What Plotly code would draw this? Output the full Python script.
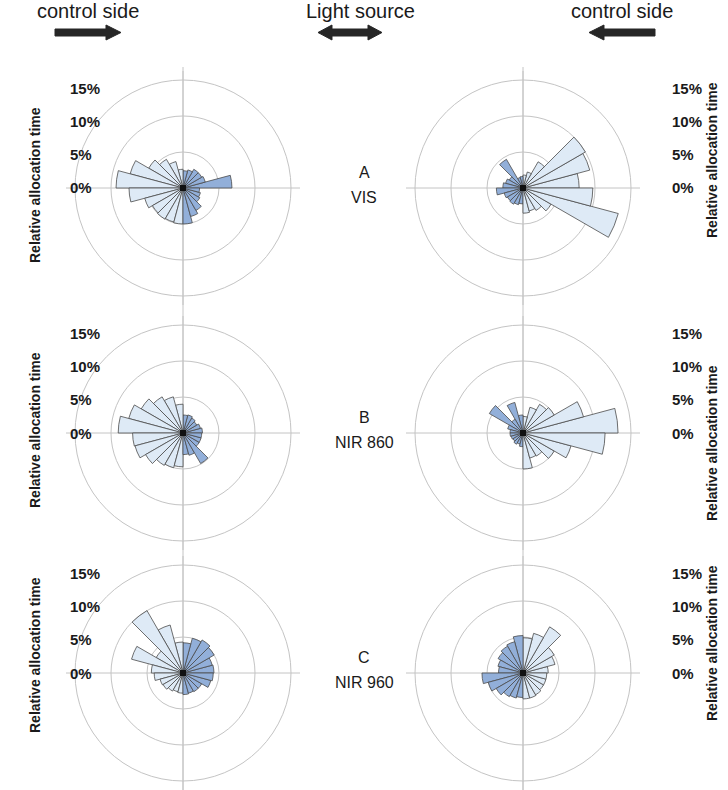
import plotly.graph_objects as go

W, H = 728, 790

# ---- data (bin centres in degrees, counter-clockwise from east) ----
bin_centers = [7.5 + 15 * k for k in range(24)]

vis_left = [6.8, 3.2, 3.0, 3.0, 2.6, 2.4, 2.6, 3.8, 4.6, 5.5, 7.6, 9.3,
            7.5, 5.5, 4.9, 5.0, 4.9, 5.0, 5.0, 4.1, 3.6, 2.7, 2.5, 2.3]
vis_right = [7.8, 9.6, 10.0, 4.2, 2.3, 1.8, 1.6, 1.5, 4.6, 2.2, 2.5, 2.8,
             3.7, 2.7, 2.5, 2.6, 2.4, 2.2, 3.5, 3.3, 3.6, 4.5, 13.7, 9.7]
nir860_left = [2.7, 2.5, 2.2, 2.4, 2.6, 2.5, 4.0, 5.2, 5.8, 6.7, 7.8, 9.0,
               7.0, 6.9, 6.0, 5.2, 5.0, 4.7, 3.0, 3.2, 4.9, 2.6, 2.6, 2.6]
nir860_right = [13.2, 8.7, 5.0, 4.6, 3.7, 2.3, 2.5, 4.4, 2.2, 5.4, 2.2, 1.8,
                1.8, 1.7, 1.6, 1.8, 1.6, 1.9, 5.0, 3.6, 3.7, 5.0, 6.9, 11.4]
nir960_left = [4.3, 4.2, 5.0, 5.3, 5.0, 4.2, 4.3, 6.9, 10.0, 4.3, 7.4, 4.4,
               4.0, 3.3, 3.2, 2.9, 2.7, 2.8, 3.0, 2.9, 3.0, 3.0, 4.0, 4.2]
nir960_right = [3.5, 4.6, 5.0, 7.4, 5.7, 4.9, 5.2, 4.5, 4.3, 4.0, 3.6, 3.4,
                5.7, 5.0, 4.3, 3.8, 3.6, 3.4, 3.6, 3.6, 3.5, 3.3, 3.3, 3.3]

row_letters = ["A", "B", "C"]
row_names = ["VIS", "NIR 860", "NIR 960"]
radial_ticks = [0, 5, 10, 15]
radial_tick_labels = ["0%", "5%", "10%", "15%"]
axis_title = "Relative allocation time"
top_labels = ["control side", "Light source", "control side"]

LIGHT = "#deeaf6"
DARK = "#92afd9"
EDGE = "#4a4a4a"
GRID = "#c4c4c4"
TXT = "#1a1a1a"

# panel centres in pixels
col_x = [183, 523]
row_y = [188, 433, 673]
R_PX = 117          # nominal pixel radius of the polar area
R_MAX = 16.25       # percent at that radius

def px(x):
    return x / W

def py(y):
    return 1 - y / H

fig = go.Figure()

panels = [
    (vis_left, 0, 0), (vis_right, 0, 1),
    (nir860_left, 1, 0), (nir860_right, 1, 1),
    (nir960_left, 2, 0), (nir960_right, 2, 1),
]

layout_polars = {}
for i, (vals, r, c) in enumerate(panels):
    name = "polar" if i == 0 else f"polar{i + 1}"
    colors = []
    for th in bin_centers:
        on_left_half = 90 < th < 270
        if c == 0:
            colors.append(LIGHT if on_left_half else DARK)
        else:
            colors.append(DARK if on_left_half else LIGHT)
    fig.add_trace(go.Barpolar(
        r=vals, theta=bin_centers, width=[15] * len(bin_centers),
        marker=dict(color=colors, line=dict(color=EDGE, width=0.8)),
        subplot=name, showlegend=False, hoverinfo="r+theta",
    ))
    fig.add_trace(go.Scatterpolar(
        r=[0], theta=[0], mode="markers",
        marker=dict(symbol="square", size=6, color="#111111"),
        subplot=name, showlegend=False, hoverinfo="skip",
    ))
    cx, cy = col_x[c], row_y[r]
    rp = min(R_PX, H - cy, cy)
    rmax = R_MAX * rp / R_PX
    layout_polars[name] = dict(
        domain=dict(x=[px(cx - rp), px(cx + rp)],
                    y=[py(cy + rp), py(cy - rp)]),
        bgcolor="rgba(0,0,0,0)",
        radialaxis=dict(range=[0, rmax], tickvals=[5, 10, 15],
                        showticklabels=False, ticks="", showline=False,
                        gridcolor=GRID, gridwidth=1),
        angularaxis=dict(tickvals=[0, 90, 180, 270], showticklabels=False,
                         ticks="", showline=False, gridcolor=GRID, gridwidth=1,
                         direction="counterclockwise", rotation=0),
        bargap=0,
    )

fig.update_layout(**layout_polars)

shapes = []
# continuous vertical axis lines through each column
for cx in col_x:
    shapes.append(dict(type="line", xref="paper", yref="paper",
                       x0=px(cx), x1=px(cx), y0=py(67), y1=0,
                       line=dict(color=GRID, width=1), layer="below"))

def poly(points):
    d = "M " + " L ".join(f"{px(x):.5f},{py(y):.5f}" for x, y in points) + " Z"
    return dict(type="path", xref="paper", yref="paper", path=d,
                fillcolor="#262626", line=dict(color="#262626", width=1))

# right-pointing arrow (left)
shapes.append(poly([(55, 29), (106, 29), (106, 25), (121, 32.5), (106, 40),
                    (106, 36), (55, 36)]))
# double arrow (centre)
shapes.append(poly([(318, 32.5), (332, 25), (332, 29), (368, 29), (368, 25),
                    (382, 32.5), (368, 40), (368, 36), (332, 36), (332, 40)]))
# left-pointing arrow (right)
shapes.append(poly([(655, 29), (604, 29), (604, 25), (589, 32.5), (604, 40),
                    (604, 36), (655, 36)]))

annotations = []
for lab, xc in zip(top_labels, [88, 360, 622]):
    annotations.append(dict(text=lab, x=px(xc), y=py(11), xref="paper",
                            yref="paper", showarrow=False,
                            font=dict(family="Liberation Sans Narrow, Liberation Sans, Arial",
                                      size=20, color=TXT),
                            xanchor="center", yanchor="middle"))

title_y = [[185, 430, 655], [160, 443, 643]]
for r in range(3):
    cy = row_y[r]
    annotations.append(dict(text=row_letters[r], x=px(364), y=py(cy - 16),
                            xref="paper", yref="paper", showarrow=False,
                            font=dict(family="Liberation Sans, Arial", size=16, color=TXT),
                            xanchor="center", yanchor="middle"))
    annotations.append(dict(text=row_names[r], x=px(364), y=py(cy + 9),
                            xref="paper", yref="paper", showarrow=False,
                            font=dict(family="Liberation Sans, Arial", size=16, color=TXT),
                            xanchor="center", yanchor="middle"))
    for c, (lx, tx) in enumerate([(68, 35), (670, 712)]):
        for v, t in zip(radial_ticks, radial_tick_labels):
            annotations.append(dict(text=f"<b>{t}</b>", x=px(lx),
                                    y=py(cy - v * 6.65), xref="paper", yref="paper",
                                    showarrow=False, xanchor="left", yanchor="middle",
                                    font=dict(family="Liberation Sans, Arial", size=15,
                                              color=TXT)))
        annotations.append(dict(text=f"<b>{axis_title}</b>", x=px(tx),
                                y=py(title_y[c][r]),
                                xref="paper", yref="paper", showarrow=False,
                                textangle=-90, xanchor="center", yanchor="middle",
                                font=dict(family="Liberation Sans, Arial", size=14,
                                          color=TXT)))

fig.update_layout(
    width=W, height=H, margin=dict(l=0, r=0, t=0, b=0),
    paper_bgcolor="white", plot_bgcolor="white",
    shapes=shapes, annotations=annotations, showlegend=False,
)

fig.write_html("out.html",
               config={"displayModeBar": False},
               post_script="document.body.style.margin='0';"
                           "document.body.style.overflow='hidden';")
